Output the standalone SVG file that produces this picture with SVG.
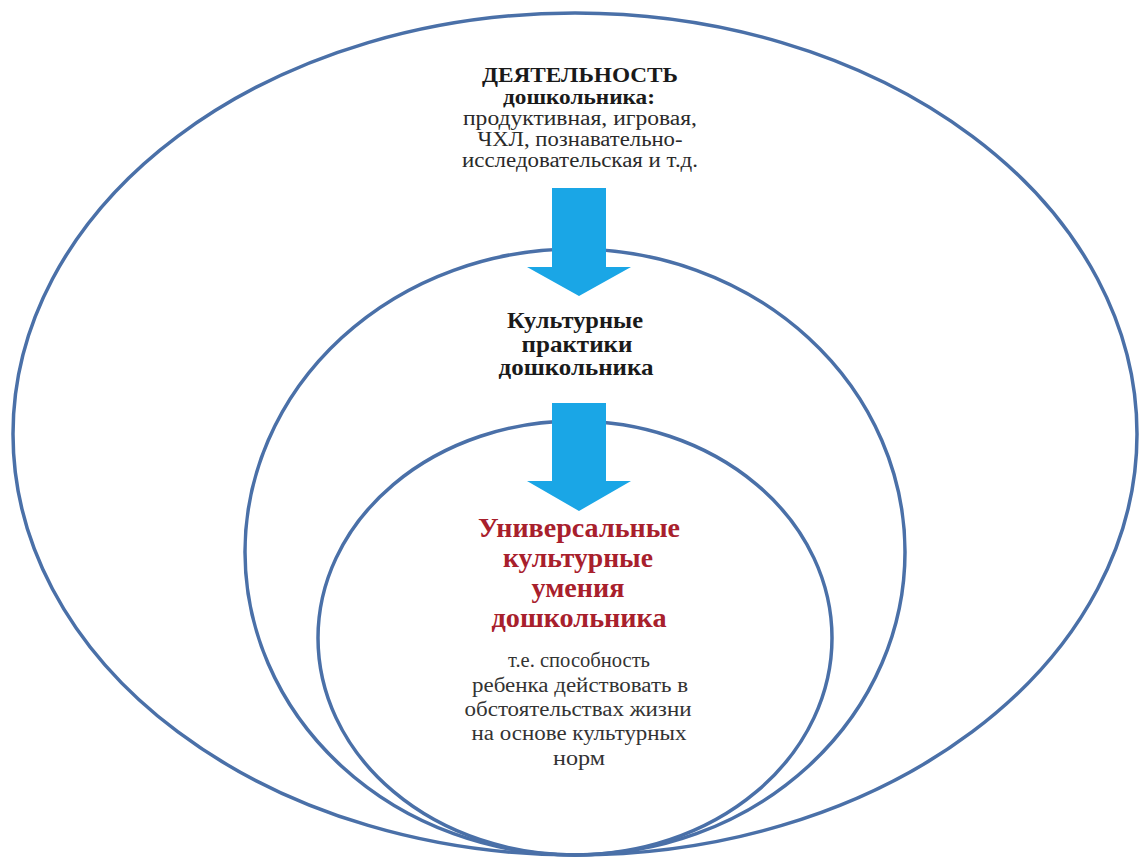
<svg xmlns="http://www.w3.org/2000/svg" width="1140" height="862" viewBox="0 0 1140 862">
<style>
.ring{fill:none;stroke:#4a70a8;stroke-width:3.5}
.arr{fill:#1aa6e6}
.txt{font-family:"Liberation Serif","Times New Roman","DejaVu Serif",serif;text-anchor:middle}
.b{font-weight:bold;fill:#1a1a1a}
.n{fill:#2a2a2a}
.red{font-weight:bold;fill:#a8202c}
.g{fill:#333}
</style>
<rect width="1140" height="862" fill="#fff"/>
<g id="outer">
<ellipse class="ring" cx="575" cy="434" rx="562" ry="421"/>
</g>
<g id="middle">
<ellipse class="ring" cx="575" cy="552" rx="330" ry="303"/>
</g>
<g id="inner">
<ellipse class="ring" cx="575" cy="638" rx="257" ry="217"/>
</g>
<g id="connectors">
<polygon class="arr" points="552,188 606,188 606,267 631,267 579,296 527,267 552,267"/>
<polygon class="arr" points="552,403 606,403 606,481 631,481 579,511 527,481 552,481"/>
</g>
<g id="activity-text" class="txt">
<text class="b" x="580" y="82" font-size="21" textLength="196" lengthAdjust="spacingAndGlyphs">ДЕЯТЕЛЬНОСТЬ</text>
<text class="b" x="579" y="104" font-size="20" textLength="152" lengthAdjust="spacingAndGlyphs">дошкольника:</text>
<text class="n" x="580" y="125" font-size="20" textLength="234" lengthAdjust="spacingAndGlyphs">продуктивная, игровая,</text>
<text class="n" x="580" y="146" font-size="20" textLength="205" lengthAdjust="spacingAndGlyphs">ЧХЛ, познавательно-</text>
<text class="n" x="580" y="167" font-size="20" textLength="236" lengthAdjust="spacingAndGlyphs">исследовательская и т.д.</text>
</g>
<g id="practices-text" class="txt">
<text class="b" x="575" y="328" font-size="23" textLength="136" lengthAdjust="spacingAndGlyphs">Культурные</text>
<text class="b" x="577" y="352" font-size="23" textLength="111" lengthAdjust="spacingAndGlyphs">практики</text>
<text class="b" x="576" y="375" font-size="23" textLength="155" lengthAdjust="spacingAndGlyphs">дошкольника</text>
</g>
<g id="skills-text" class="txt">
<text class="red" x="579" y="537" font-size="27" textLength="202" lengthAdjust="spacingAndGlyphs">Универсальные</text>
<text class="red" x="578" y="567" font-size="27" textLength="150" lengthAdjust="spacingAndGlyphs">культурные</text>
<text class="red" x="578" y="597" font-size="27" textLength="93" lengthAdjust="spacingAndGlyphs">умения</text>
<text class="red" x="579" y="627" font-size="27" textLength="175" lengthAdjust="spacingAndGlyphs">дошкольника</text>
<text class="g" x="579" y="667" font-size="20" textLength="142" lengthAdjust="spacingAndGlyphs">т.е. способность</text>
<text class="g" x="580" y="692" font-size="20" textLength="216" lengthAdjust="spacingAndGlyphs">ребенка действовать в</text>
<text class="g" x="578" y="716" font-size="20" textLength="227" lengthAdjust="spacingAndGlyphs">обстоятельствах жизни</text>
<text class="g" x="579" y="740" font-size="20" textLength="215" lengthAdjust="spacingAndGlyphs">на основе культурных</text>
<text class="g" x="579" y="765" font-size="20" textLength="52" lengthAdjust="spacingAndGlyphs">норм</text>
</g>
</svg>
